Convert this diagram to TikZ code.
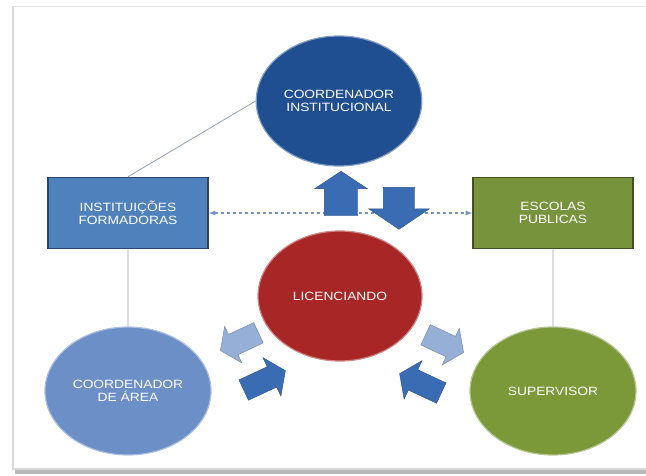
\documentclass[tikz,border=0pt]{standalone}
\usepackage{fontspec}
\newfontfamily\lblfont{Liberation Sans}[FakeStretch=1.15]
\usetikzlibrary{shapes.geometric,shapes.arrows,arrows,positioning}

\definecolor{coordblue}{RGB}{31,78,145}
\definecolor{instblue}{RGB}{79,129,189}
\definecolor{arearblue}{RGB}{108,143,200}
\definecolor{licred}{RGB}{168,38,38}
\definecolor{escgreen}{RGB}{119,147,60}
\definecolor{supgreen}{RGB}{124,153,58}
\definecolor{linkgray}{RGB}{150,160,175}
\definecolor{dashblue}{RGB}{115,145,200}
\definecolor{darkarrow}{RGB}{58,108,180}
\definecolor{lightarrow}{RGB}{150,175,215}

\begin{document}
\begin{tikzpicture}[x=1pt,y=-1pt,
  blob/.style={ellipse,minimum width=164pt,minimum height=130pt,fill=#1,
    draw=#1!55!white,line width=1.2pt,text=white,align=center,
    font=\lblfont\fontsize{12}{13.5}\selectfont},
  box/.style={rectangle,minimum width=160pt,minimum height=71pt,fill=#1,
    draw=#1!55!black,line width=1.5pt,text=white,align=center,
    font=\lblfont\fontsize{12}{13.5}\selectfont},
  blockarrow/.style={single arrow,fill=#1,draw=#1!75!black,line width=0.4pt},
  link/.style={draw=linkgray,line width=0.8pt}]

  \useasboundingbox (0,0) rectangle (646,475);
  % frame
  \fill[gray!55] (15,468) rectangle (646,474);
  \draw[gray!30,line width=1.5pt] (13,6) -- (13,469) -- (646,469);
  \draw[gray!20,line width=1pt] (13,6) -- (646,6);

  \node[blob=coordblue] (coordinst) at (339,101) {COORDENADOR\\INSTITUCIONAL};
  \node[box=instblue] (inst) at (128,213) {INSTITUIÇÕES\\FORMADORAS};
  \node[box=escgreen] (escolas) at (553,213) {ESCOLAS\\PUBLICAS};
  \node[blob=licred] (lic) at (340,296) {LICENCIANDO};
  \node[blob=arearblue,minimum width=166pt,minimum height=128pt] (area) at (128,391) {COORDENADOR\\DE ÁREA};
  \node[blob=supgreen,minimum width=166pt,minimum height=128pt] (super) at (553,391) {SUPERVISOR};

  \path[link]
  (inst.north) -- (coordinst.west)
  (inst.south) -- (area.north)
  (escolas.south) -- (super.north);

  \draw[dashblue,dash pattern=on 3pt off 3pt,line width=1.3pt,latex-latex] (inst.east) -- (escolas.west);

  % block arrows
  \node[blockarrow=darkarrow,rotate=90,inner sep=16.5pt,minimum height=32pt,
    single arrow head extend=9.5pt,single arrow tip angle=113] (up) at (341,199) {};
  \node[blockarrow=darkarrow,rotate=-90,inner sep=15.5pt,minimum height=37pt,
    single arrow head extend=14.5pt,single arrow tip angle=112] (down) at (399,203) {};
  \node[blockarrow=lightarrow,rotate=205,inner sep=11pt,minimum height=42pt,
    single arrow head extend=9pt,single arrow tip angle=110] (areaout) at (243,340) {};
  \node[blockarrow=darkarrow,rotate=25,inner sep=11pt,minimum height=46pt,
    single arrow head extend=10pt,single arrow tip angle=110] (areain) at (261,382) {};
  \node[blockarrow=lightarrow,rotate=-25,inner sep=11pt,minimum height=42pt,
    single arrow head extend=9pt,single arrow tip angle=110] (supout) at (441,342) {};
  \node[blockarrow=darkarrow,rotate=155,inner sep=11pt,minimum height=46pt,
    single arrow head extend=10pt,single arrow tip angle=110] (supin) at (424,385) {};

\end{tikzpicture}
\end{document}
